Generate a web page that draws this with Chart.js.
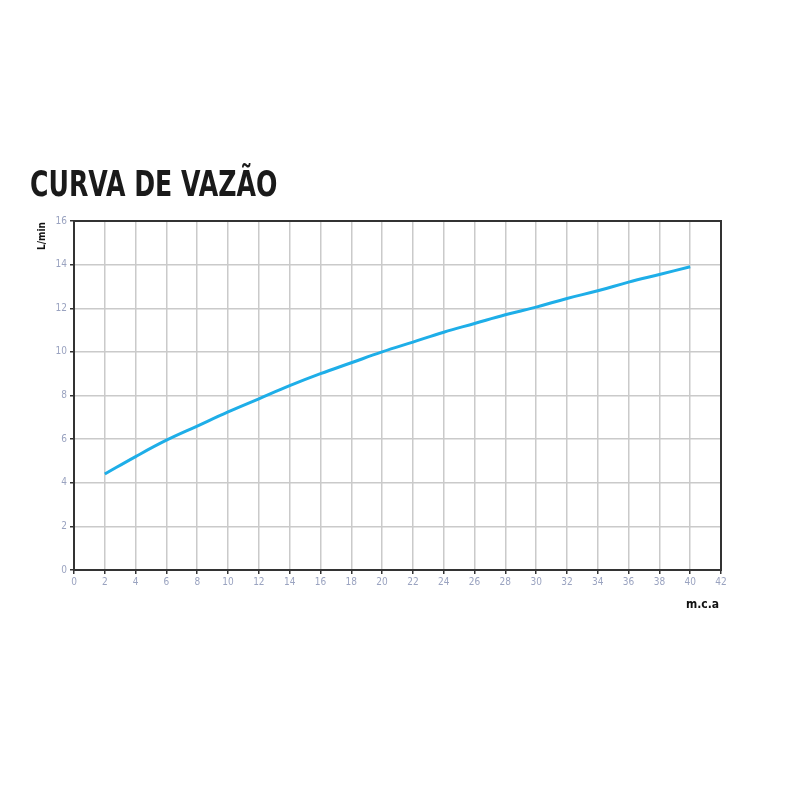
<!DOCTYPE html>
<html>
<head>
<meta charset="utf-8">
<script src="https://cdn.jsdelivr.net/npm/chart.js@4"></script>
<style>
  body { margin: 0; background: #fff; }
  #wrap { position: relative; width: 800px; height: 800px; }
  #chart { position: absolute; left: 0; top: 0; }
  .title { position: absolute; left: 30px; top: 164px; font-family: "DejaVu Sans Condensed", "DejaVu Sans", sans-serif;
    font-weight: bold; font-size: 35px; color: #1a1a1a; transform: scaleX(0.80); transform-origin: left top; white-space: nowrap; }
  .ylab { position: absolute; left: 36px; top: 250px; transform: rotate(-90deg); transform-origin: left top;
    font-family: "DejaVu Sans Condensed", sans-serif; font-weight: bold; font-size: 10px; color: #111; }
  .xlab { position: absolute; left: 686px; top: 597px; font-family: "DejaVu Sans Condensed", sans-serif;
    font-weight: bold; font-size: 12px; color: #111; }
</style>
</head>
<body>
<div id="wrap">
  <canvas id="chart" width="800" height="800"></canvas>
  <div class="title">CURVA DE VAZÃO</div>
  <div class="ylab">L/min</div>
  <div class="xlab">m.c.a</div>
</div>
<script>
const pressure = [2, 4, 6, 8, 10, 12, 14, 16, 18, 20, 22, 24, 26, 28, 30, 32, 34, 36, 38, 40];
const flow = [4.4, 5.2, 5.95, 6.6, 7.25, 7.85, 8.45, 9.0, 9.5, 10.0, 10.45, 10.9, 11.3, 11.7, 12.05, 12.45, 12.8, 13.2, 13.55, 13.9];

const points = pressure.map((p, i) => ({ x: p, y: flow[i] }));

// dark frame round the plot area
const frame = {
    id: 'frame',
    afterDraw(chart) {
        const a = chart.chartArea;
        const ctx = chart.ctx;
        ctx.save();
        ctx.strokeStyle = '#333';
        ctx.lineWidth = 2;
        ctx.strokeRect(a.left, a.top, a.right - a.left, a.bottom - a.top);
        ctx.restore();
    }
};

const tickFont = { family: 'DejaVu Sans Condensed, sans-serif', size: 10 };

new Chart(document.getElementById('chart').getContext('2d'), {
    type: 'line',
    data: {
        datasets: [{
            data: points,
            borderColor: '#1eaee8',
            borderWidth: 3,
            tension: 0.4,
            pointRadius: 0,
            fill: false
        }]
    },
    options: {
        responsive: false,
        animation: false,
        layout: { padding: { left: 44, top: 221, right: 79, bottom: 200 } },
        plugins: { legend: { display: false }, tooltip: { enabled: false } },
        scales: {
            x: {
                type: 'linear',
                min: 0,
                max: 42,
                afterFit: scale => { scale.height = 30; },
                ticks: { stepSize: 2, color: '#9aa3c0', font: tickFont, padding: 2 },
                grid: { color: '#cacaca', lineWidth: 1.5, tickLength: 4, tickColor: '#333' },
                border: { color: '#333', width: 2 }
            },
            y: {
                min: 0,
                max: 16,
                afterFit: scale => { scale.width = 30; },
                ticks: { stepSize: 2, color: '#9aa3c0', font: tickFont, padding: 3 },
                grid: { color: '#cacaca', lineWidth: 1.5, tickLength: 4, tickColor: '#333' },
                border: { color: '#333', width: 2 }
            }
        }
    },
    plugins: [frame]
});
</script>
</body>
</html>
